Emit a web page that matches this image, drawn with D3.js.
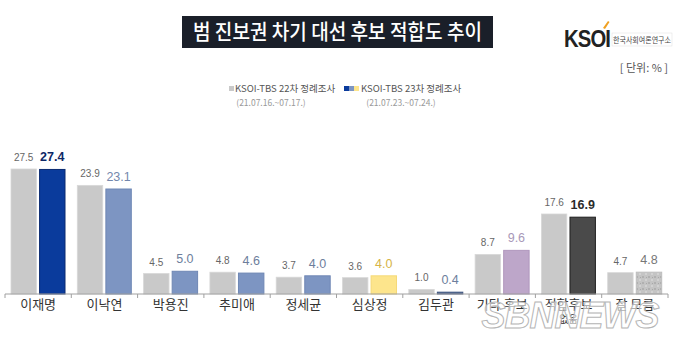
<!DOCTYPE html>
<html><head><meta charset="utf-8">
<script src="https://cdn.jsdelivr.net/npm/d3@7"></script>
<style>
body{margin:0;background:#fff;}
svg{display:block;font-family:"Noto Sans CJK KR","Noto Sans",sans-serif;}
</style></head>
<body>
<svg id="c" width="680" height="342"></svg>
<script>
const categories = ["이재명","이낙연","박용진","추미애","정세균","심상정","김두관","기타 후보","적합후보 없음","잘 모름"];
const series22 = [27.5,23.9,4.5,4.8,3.7,3.6,1.0,8.7,17.6,4.7];
const series23 = [27.4,23.1,5.0,4.6,4.0,4.0,0.4,9.6,16.9,4.8];
const seriesNames = ["KSOI-TBS 22차 정례조사","KSOI-TBS 23차 정례조사"];
const seriesDates = ["(21.07.16.~07.17.)","(21.07.23.~07.24.)"];
const fill23 = ["#0a3b9c","#7d95c2","#7d95c2","#7d95c2","#7d95c2","#fde58c","#4d6491","#bda6c9","#4a4a4a","url(#noise)"];
const stroke23 = ["#0a2a70","#6f87b4","#6f87b4","#6f87b4","#6f87b4","#f5d978","#40557f","#b097bd","#1e1e1e","#bdbdbd"];
const label23Color = ["#0d2766","#7387ac","#6d7e9c","#6d7e9c","#6d7e9c","#d6b447","#6d7e9c","#a898b8","#2b2b2b","#777"];
const label23Weight = ["bold","normal","normal","normal","normal","normal","normal","normal","bold","normal"];

const svg = d3.select("#c");
const defs = svg.append("defs");
const pat = defs.append("pattern").attr("id","noise").attr("width",6).attr("height",6).attr("patternUnits","userSpaceOnUse");
pat.append("rect").attr("width",6).attr("height",6).attr("fill","#c4c4c4");
pat.append("rect").attr("x",0).attr("y",0).attr("width",2).attr("height",2).attr("fill","#b0b0b0");
pat.append("rect").attr("x",3).attr("y",3).attr("width",2).attr("height",2).attr("fill","#d2d2d2");
pat.append("rect").attr("x",4).attr("y",1).attr("width",1).attr("height",1).attr("fill","#a8a8a8");

// Title
svg.append("rect").attr("x",182).attr("y",16).attr("width",311).attr("height",32).attr("fill","#1a1f29");
svg.append("text").attr("x",337.5).attr("y",39).attr("text-anchor","middle")
  .attr("fill","#fff").attr("font-size",21).attr("font-weight",500)
  .attr("textLength",289).attr("lengthAdjust","spacingAndGlyphs").text("범 진보권 차기 대선 후보 적합도 추이");

// Logo
svg.append("text").attr("x",564).attr("y",47).attr("font-family","Liberation Sans, Arial, sans-serif")
  .attr("font-size",23).attr("font-weight","bold").attr("fill","#222").attr("letter-spacing",-1)
  .attr("textLength",46).attr("lengthAdjust","spacingAndGlyphs").text("KSOI");
svg.append("path").attr("d","M603 28 L608 21 L609.5 22 L605 29 Z").attr("fill","#f0a020");
svg.append("rect").attr("x",612).attr("y",33).attr("width",60).attr("height",13).attr("fill","none").attr("stroke","#ddd").attr("stroke-width",0.5);
svg.append("text").attr("x",613).attr("y",43).attr("font-size",7.5).attr("fill","#444")
  .attr("textLength",58).attr("lengthAdjust","spacingAndGlyphs").text("한국사회여론연구소");

// unit
svg.append("text").attr("x",668).attr("y",72).attr("text-anchor","end").attr("font-size",11).attr("fill","#555").text("[ 단위: % ]");

// Legend
const lg = svg.append("g").attr("font-size",9.5).attr("fill","#555");
lg.append("rect").attr("x",229).attr("y",86).attr("width",5).attr("height",5).attr("fill","#c9c9c9");
lg.append("text").attr("x",235).attr("y",92).attr("fill","#555").text(seriesNames[0]);
lg.append("text").attr("x",271).attr("y",106).attr("text-anchor","middle").attr("fill","#999").attr("font-size",8.5).text(seriesDates[0]);
[["#0a3b9c",344],["#7d95c2",349],["#fde58c",354]].forEach(([c,x])=>{
  lg.append("rect").attr("x",x).attr("y",86).attr("width",5).attr("height",5).attr("fill",c);
});
lg.append("text").attr("x",361).attr("y",92).attr("fill","#555").text(seriesNames[1]);
lg.append("text").attr("x",401).attr("y",106).attr("text-anchor","middle").attr("fill","#999").attr("font-size",8.5).text(seriesDates[1]);

// Scales
const x = d3.scaleBand().domain(categories).range([5,668]).paddingInner(0).paddingOuter(0);
const xi = d3.scaleBand().domain([0,1]).range([6,60]).paddingInner(0.11);
const y = d3.scaleLinear().domain([0,27.5]).range([294,169]);

const g = svg.append("g");
categories.forEach((c,i)=>{
  const x0 = x(c);
  g.append("rect").attr("x",x0+xi(0)).attr("y",y(series22[i])).attr("width",xi.bandwidth())
    .attr("height",y(0)-y(series22[i])).attr("fill","#c9c9c9").attr("stroke","#d8d8d8").attr("stroke-width",0.8);
  g.append("text").attr("x",x0+xi(0)+xi.bandwidth()/2).attr("y",y(series22[i])-8)
    .attr("text-anchor","middle").attr("font-size",10).attr("fill","#666")
    .attr("font-family","Liberation Sans, Arial, sans-serif").text(series22[i].toFixed(1));
  g.append("rect").attr("x",x0+xi(1)).attr("y",y(series23[i])).attr("width",xi.bandwidth())
    .attr("height",y(0)-y(series23[i])).attr("fill",fill23[i]).attr("stroke",stroke23[i]).attr("stroke-width",1);
  g.append("text").attr("x",x0+xi(1)+xi.bandwidth()/2).attr("y",y(series23[i])-8)
    .attr("text-anchor","middle").attr("font-size",12.5).attr("font-weight",label23Weight[i]).attr("fill",label23Color[i])
    .attr("font-family","Liberation Sans, Arial, sans-serif").text(series23[i].toFixed(1));
});

// Axis
const ax = svg.append("g").attr("transform","translate(0,294)");
ax.append("line").attr("x1",5).attr("x2",668).attr("stroke","#a0a0a0").attr("stroke-width",1);
const bounds = categories.map(c=>x(c)).concat([x(categories[categories.length-1])+x.bandwidth()]);
ax.selectAll("line.t").data(bounds).enter().append("line").attr("class","t")
  .attr("x1",d=>d).attr("x2",d=>d).attr("y1",0).attr("y2",4).attr("stroke","#a0a0a0");

// category labels
categories.forEach(c=>{
  const cx = x(c)+x.bandwidth()/2;
  if(c==="적합후보 없음"){
    svg.append("text").attr("x",cx).attr("y",309).attr("text-anchor","middle").attr("font-size",13).attr("fill","#333").text("적합후보");
    svg.append("text").attr("x",cx).attr("y",323).attr("text-anchor","middle").attr("font-size",10).attr("fill","#333").text("없음");
  } else {
    svg.append("text").attr("x",cx).attr("y",309).attr("text-anchor","middle").attr("font-size",13).attr("fill","#333").text(c);
  }
});

// watermark
svg.append("text").attr("x",570).attr("y",328).attr("text-anchor","middle")
  .attr("font-family","Liberation Sans, Arial, sans-serif").attr("font-size",36).attr("font-weight","bold").attr("font-style","italic")
  .attr("fill","rgba(255,255,255,0.6)").attr("stroke","#b5b5b5").attr("stroke-width",1).attr("letter-spacing",-1).text("SBNNEWS");
</script>
</body></html>
